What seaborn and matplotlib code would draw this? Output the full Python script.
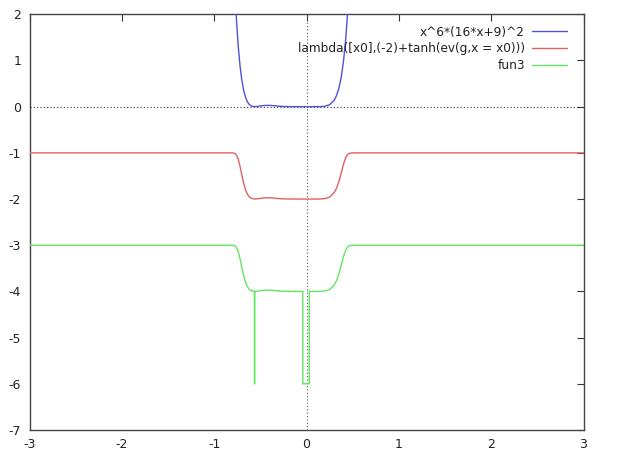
import numpy as np
import pandas as pd
import matplotlib
matplotlib.use("Agg")
import matplotlib.pyplot as plt
import seaborn as sns

# ---- data ----
blue_x = [-0.80, -0.78, -0.76, -0.74, -0.72, -0.70, -0.68, -0.66, -0.64, -0.62, -0.60,
          -0.5625, -0.52, -0.48, -0.45, -0.40, -0.35, -0.30, -0.25, -0.20, -0.10, 0.0,
          0.10, 0.15, 0.20, 0.25, 0.30, 0.325, 0.35, 0.375, 0.40, 0.425, 0.45, 0.48]
blue_y = [3.78, 2.73, 1.93, 1.325, 0.885, 0.569, 0.35, 0.201, 0.106, 0.048, 0.0168,
          0.0, 0.0092, 0.021, 0.027, 0.0277, 0.0213, 0.0105, 0.0039, 0.0021, 0.0001, 0.0,
          0.0001, 0.0017, 0.0095, 0.0412, 0.139, 0.24, 0.392, 0.626, 0.972, 1.47, 2.18, 3.40]

red_x = [-3.0, -0.90, -0.84, -0.80, -0.78, -0.76, -0.74, -0.72, -0.70, -0.68, -0.66,
         -0.64, -0.62, -0.60, -0.5625, -0.52, -0.48, -0.45, -0.40, -0.35, -0.30, -0.25,
         -0.20, -0.10, 0.0, 0.10, 0.15, 0.20, 0.25, 0.30, 0.325, 0.35, 0.375, 0.40,
         0.425, 0.45, 0.48, 0.52, 3.0]
red_y = [-1.0, -1.0, -1.0, -1.001, -1.008, -1.042, -1.132, -1.291, -1.485, -1.664, -1.802,
         -1.894, -1.952, -1.983, -2.0, -1.991, -1.979, -1.973, -1.972, -1.979, -1.99, -1.996,
         -1.998, -2.0, -2.0, -2.0, -1.998, -1.9905, -1.959, -1.862, -1.765, -1.627, -1.445, -1.25,
         -1.10, -1.025, -1.002, -1.0, -1.0]

green_x = [-3.0, -0.90, -0.84, -0.80, -0.78, -0.76, -0.74, -0.72, -0.70, -0.68, -0.66,
           -0.64, -0.62, -0.60, -0.5625, -0.5625, -0.5625, -0.52, -0.48, -0.45, -0.40,
           -0.35, -0.30, -0.25, -0.20, -0.10, -0.04, -0.04, 0.03, 0.03, 0.10, 0.15, 0.20,
           0.25, 0.30, 0.325, 0.35, 0.375, 0.40, 0.425, 0.45, 0.48, 0.52, 3.0]
green_y = [-3.0, -3.0, -3.0, -3.001, -3.008, -3.042, -3.132, -3.291, -3.485, -3.664, -3.802,
           -3.894, -3.952, -3.983, -4.0, -6.0, -4.0, -3.991, -3.979, -3.973, -3.972,
           -3.979, -3.99, -3.996, -3.998, -4.0, -4.0, -6.0, -6.0, -4.0, -4.0, -3.998, -3.9905,
           -3.959, -3.862, -3.765, -3.627, -3.445, -3.25, -3.10, -3.025, -3.002, -3.0, -3.0]

labels = ["x^6*(16*x+9)^2", "lambda([x0],(-2)+tanh(ev(g,x = x0)))", "fun3"]
colors = ["#5050dc", "#e06060", "#60e660"]
x_ticks = [-3, -2, -1, 0, 1, 2, 3]
y_ticks = [-7, -6, -5, -4, -3, -2, -1, 0, 1, 2]

frames = []
for lab, xs, ys in zip(labels, [blue_x, red_x, green_x], [blue_y, red_y, green_y]):
    frames.append(pd.DataFrame({"x": xs, "y": ys, "series": lab, "order": range(len(xs))}))
df = pd.concat(frames, ignore_index=True)

sns.set_style("white")
plt.rcParams["font.family"] = ["DejaVu Sans"]
plt.rcParams["axes.unicode_minus"] = False

fig = plt.figure(figsize=(6.22, 4.58), dpi=100)
ax = fig.add_axes([29.5 / 622, 1 - 430 / 458, (583.5 - 29.5) / 622, (430 - 14.3) / 458])

# zero axes (dotted)
ax.axhline(0, color="#333333", lw=0.8, ls=(0, (1, 2)), zorder=1)
ax.axvline(0, color="#555555", lw=0.8, ls=(0, (1, 2)), zorder=1)

sns.lineplot(data=df, x="x", y="y", hue="series", hue_order=labels, palette=colors,
             sort=False, estimator=None, units="series", lw=1.0, ax=ax, legend=True, zorder=3)

ax.set_xlim(-3, 3)
ax.set_ylim(-7, 2)
ax.set_xticks(x_ticks)
ax.set_yticks(y_ticks)
ax.set_xlabel("")
ax.set_ylabel("")
ax.tick_params(direction="in", length=5, width=0.8, colors="#333333", labelcolor="#222222",
               labelsize=9, top=True, right=True, pad=6)
for s in ax.spines.values():
    s.set_visible(True)
    s.set_color("#444444")
    s.set_linewidth(1.0)

handles, labs = ax.get_legend_handles_labels()
leg = ax.legend(handles, labs, loc="upper right", bbox_to_anchor=(0.971, 0.973),
                frameon=False, markerfirst=False, fontsize=8.7, handlelength=2.9,
                handletextpad=0.6, labelspacing=0.3, borderpad=0.0, borderaxespad=0.0)
for t in leg.get_texts():
    t.set_color("#222222")
for h in leg.get_lines():
    h.set_linewidth(1.0)

fig.savefig("out.png", dpi=100, facecolor="white")
